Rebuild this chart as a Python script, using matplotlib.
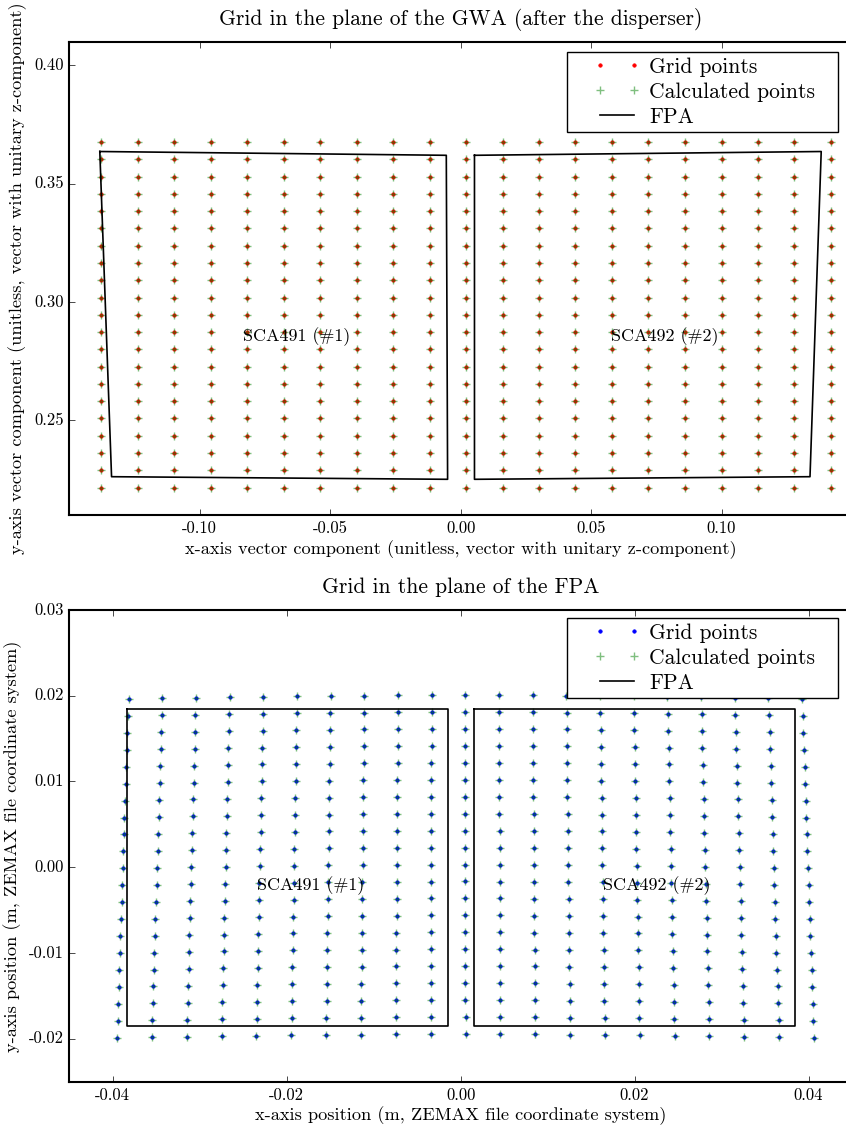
import numpy as np
import matplotlib
matplotlib.use("Agg")
from matplotlib import pyplot as plt
from matplotlib.ticker import FormatStrFormatter
from matplotlib.legend_handler import HandlerLine2D

plt.style.use("classic")
plt.rcParams["font.family"] = ["cmr10", "DejaVu Serif"]
plt.rcParams["axes.unicode_minus"] = False
plt.rcParams["axes.formatter.use_mathtext"] = False

# grid in the GWA plane (x/z, y/z)
gwa_col_x = [-0.1378, -0.1238, -0.1098, -0.0958, -0.0818, -0.0678, -0.0539,
             -0.0399, -0.0259, -0.0119, 0.0021, 0.0161, 0.0300, 0.0440,
             0.0580, 0.0720, 0.0860, 0.1000, 0.1140, 0.1279, 0.1419]
gwa_row_y = [0.3677, 0.3603, 0.3530, 0.3457, 0.3384, 0.3311, 0.3238,
             0.3165, 0.3092, 0.3019, 0.2946, 0.2873, 0.2800, 0.2727,
             0.2654, 0.2581, 0.2508, 0.2435, 0.2362, 0.2289, 0.2216]

# FPA outlines projected on the GWA
gwa_sca1_x = [-0.1383, -0.0055, -0.0050, -0.1338, -0.1383]
gwa_sca1_y = [0.3636, 0.3620, 0.2251, 0.2262, 0.3636]
gwa_sca2_x = [0.0053, 0.1382, 0.1339, 0.0053, 0.0053]
gwa_sca2_y = [0.3620, 0.3636, 0.2262, 0.2251, 0.3620]

# grid in the FPA plane (m)
fpa_col_x = [-0.03885, -0.03491, -0.03097, -0.02703, -0.02309, -0.01915,
             -0.01521, -0.01127, -0.00733, -0.00339, 0.00055, 0.00449,
             0.00843, 0.01237, 0.01631, 0.02025, 0.02419, 0.02813,
             0.03207, 0.03601, 0.03995]
fpa_col_dy = [-0.00045, -0.00038, -0.00032, -0.00026, -0.00020, -0.00014,
              -0.00010, -0.00006, -0.00003, -0.00001, 0.0, -0.00001,
              -0.00003, -0.00006, -0.00010, -0.00014, -0.00020, -0.00026,
              -0.00032, -0.00038, -0.00045]
fpa_row_y = [0.02008, 0.01810, 0.01613, 0.01415, 0.01218, 0.01020, 0.00822,
             0.00625, 0.00427, 0.00230, 0.00032, -0.00166, -0.00363,
             -0.00561, -0.00758, -0.00956, -0.01154, -0.01351, -0.01549,
             -0.01746, -0.01944]
fpa_row_scale = [0.9830, 0.9847, 0.9864, 0.9881, 0.9898, 0.9915, 0.9932,
                 0.9949, 0.9966, 0.9983, 1.0000, 1.0017, 1.0034, 1.0051,
                 1.0068, 1.0085, 1.0102, 1.0119, 1.0136, 1.0153, 1.0170]

fpa_sca1_x = [-0.0384, -0.0015, -0.0015, -0.0384, -0.0384]
fpa_sca1_y = [0.0185, 0.0185, -0.0185, -0.0185, 0.0185]
fpa_sca2_x = [0.0015, 0.0385, 0.0385, 0.0015, 0.0015]
fpa_sca2_y = [0.0185, 0.0185, -0.0185, -0.0185, 0.0185]

gx, gy = np.meshgrid(gwa_col_x, gwa_row_y)
fx = np.outer(fpa_row_scale, fpa_col_x)
fy = np.array(fpa_row_y)[:, None] + np.array(fpa_col_dy)[None, :]


def add_legend(ax, top):
    # expand mode leaves the extra room on the right, like the old legend
    h = HandlerLine2D(xpad=0.96)
    leg = ax.legend(loc="upper right", numpoints=2, fontsize=15.5,
                    handlelength=3.14, handletextpad=0.42, labelspacing=0.25,
                    borderpad=0.25, borderaxespad=0.0, mode="expand",
                    bbox_to_anchor=(0.6359, 0.5, 0.3462, top - 0.5),
                    handler_map={l: h for l in ax.get_lines()})
    return leg


fig = plt.figure(figsize=(8.46, 11.27), dpi=100, facecolor="white")

ax1 = fig.add_axes([0.0819, 0.5430, 0.9252, 0.4200])
ax1.plot(gx.ravel(), gy.ravel(), "r.", markersize=5, label="Grid points")
ax1.plot(gx.ravel(), gy.ravel(), "g+", markersize=6, mew=1.0, alpha=0.5,
         label="Calculated points")
ax1.plot(gwa_sca1_x, gwa_sca1_y, "k-", lw=1.2, label="FPA")
ax1.plot(gwa_sca2_x, gwa_sca2_y, "k-", lw=1.2)
ax1.text(-0.063, 0.2854, "SCA491 (#1)", ha="center", va="center", fontsize=13)
ax1.text(0.0781, 0.2854, "SCA492 (#2)", ha="center", va="center", fontsize=13)
ax1.set_xlim(-0.15, 0.15)
ax1.set_ylim(0.21, 0.41)
ax1.set_xticks([-0.10, -0.05, 0.0, 0.05, 0.10])
ax1.set_yticks([0.25, 0.30, 0.35, 0.40])
ax1.xaxis.set_major_formatter(FormatStrFormatter("%.2f"))
ax1.yaxis.set_major_formatter(FormatStrFormatter("%.2f"))
ax1.set_title("Grid in the plane of the GWA (after the disperser)",
              fontsize=15.5, y=1.02)
ax1.set_xlabel("x-axis vector component (unitless, vector with unitary z-component)",
               fontsize=13.2, labelpad=3)
ax1.set_ylabel("y-axis vector component (unitless, vector with unitary z-component)",
               fontsize=13.2)
add_legend(ax1, 0.9782)

ax2 = fig.add_axes([0.0819, 0.0402, 0.9252, 0.4186])
ax2.plot(fx.ravel(), fy.ravel(), "b.", markersize=5, label="Grid points")
ax2.plot(fx.ravel(), fy.ravel(), "g+", markersize=6, mew=1.0, alpha=0.5,
         label="Calculated points")
ax2.plot(fpa_sca1_x, fpa_sca1_y, "k-", lw=1.2, label="FPA")
ax2.plot(fpa_sca2_x, fpa_sca2_y, "k-", lw=1.2)
ax2.text(-0.0172, -0.0022, "SCA491 (#1)", ha="center", va="center", fontsize=13)
ax2.text(0.0225, -0.0022, "SCA492 (#2)", ha="center", va="center", fontsize=13)
ax2.set_xlim(-0.045, 0.045)
ax2.set_ylim(-0.025, 0.03)
ax2.set_xticks([-0.04, -0.02, 0.0, 0.02, 0.04])
ax2.set_yticks([-0.02, -0.01, 0.0, 0.01, 0.02, 0.03])
ax2.xaxis.set_major_formatter(FormatStrFormatter("%.2f"))
ax2.yaxis.set_major_formatter(FormatStrFormatter("%.2f"))
ax2.set_title("Grid in the plane of the FPA", fontsize=15.5, y=1.022)
ax2.set_xlabel("x-axis position (m, ZEMAX file coordinate system)",
               fontsize=13.2, labelpad=3)
ax2.set_ylabel("y-axis position (m, ZEMAX file coordinate system)", fontsize=13.2)
add_legend(ax2, 0.983)

for ax in (ax1, ax2):
    for sp in ax.spines.values():
        sp.set_linewidth(1.5)
    ax.tick_params(labelsize=12)

fig.savefig("out.png", dpi=100, facecolor="white")
